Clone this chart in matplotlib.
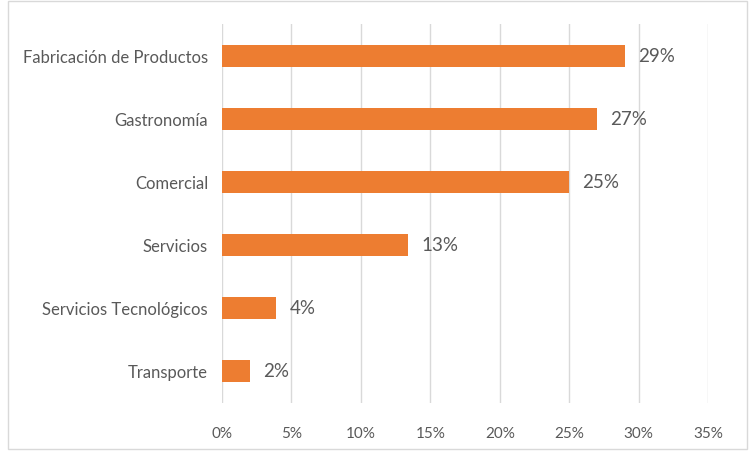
import matplotlib.pyplot as plt
from matplotlib.patches import Rectangle
from matplotlib.ticker import PercentFormatter, MultipleLocator

# sectors, top to bottom
sectores = ['Fabricación de Productos', 'Gastronomía', 'Comercial',
            'Servicios', 'Servicios Tecnológicos', 'Transporte']
porcentajes = [0.29, 0.27, 0.25, 0.134, 0.039, 0.02]

naranja = '#ED7D31'
gris_texto = '#595959'
gris_rejilla = '#D9D9D9'
fuente = 'Lato'

fig = plt.figure(figsize=(7.49, 4.52), dpi=100)
ax = fig.add_axes([0.2964, 0.1073, 0.649, 0.8363])

y = list(range(len(sectores)))[::-1]
ax.barh(y, porcentajes, height=0.35, color=naranja, zorder=3)

for yi, v in zip(y, porcentajes):
    ax.text(v + 0.0095, yi, f'{v:.0%}', va='center', ha='left',
            fontsize=13.5, color=gris_texto, family=fuente)

ax.set_xlim(0, 0.35)
ax.set_ylim(-0.5, len(sectores) - 0.5)
ax.xaxis.set_major_locator(MultipleLocator(0.05))
ax.xaxis.set_major_formatter(PercentFormatter(1.0, decimals=0))
ax.set_yticks(y)
ax.set_yticklabels(sectores)

ax.grid(axis='x', color=gris_rejilla, linewidth=1, zorder=0)
for s in ax.spines.values():
    s.set_visible(False)
ax.tick_params(axis='both', length=0, colors=gris_texto, labelsize=11)
ax.tick_params(axis='y', pad=10, labelsize=12)
ax.tick_params(axis='x', pad=17)
for lbl in ax.get_xticklabels() + ax.get_yticklabels():
    lbl.set_family(fuente)

# light frame around the whole chart
fig.patches.append(Rectangle((0.011, 0.004), 0.986, 0.992, transform=fig.transFigure,
                             fill=False, edgecolor=gris_rejilla, linewidth=1))

fig.savefig('out.png', dpi=100)
